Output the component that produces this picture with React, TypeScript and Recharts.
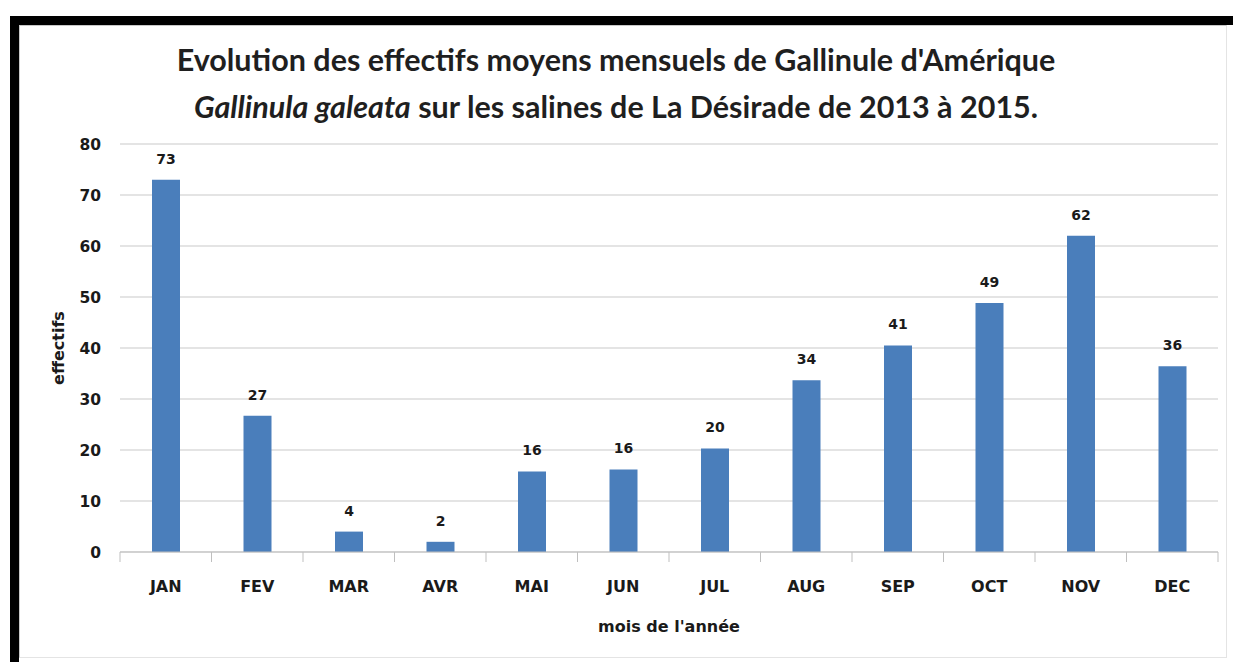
import React from 'react'
import {
  BarChart,
  Bar,
  XAxis,
  YAxis,
  CartesianGrid,
  LabelList,
  Label,
} from 'recharts'

const months = ['JAN', 'FEV', 'MAR', 'AVR', 'MAI', 'JUN', 'JUL', 'AUG', 'SEP', 'OCT', 'NOV', 'DEC']
const effectifs = [73, 26.7, 4, 2, 15.8, 16.2, 20.3, 33.7, 40.5, 48.8, 62, 36.4]
const yTicks = [0, 10, 20, 30, 40, 50, 60, 70, 80]

const data = months.map((m, i) => ({ mois: m, effectif: effectifs[i] }))

const W = 1233
const H = 662
const PLOT_LEFT = 120
const PLOT_RIGHT = 1218
const BAND = (PLOT_RIGHT - PLOT_LEFT) / months.length

const tickFont = '"DejaVu Sans", Verdana, sans-serif'

// category tick: label centred, tick marks on the category boundaries
const MonthTick = (props: any) => {
  const { x, y, payload, index } = props
  const axisY = y - 22
  return (
    <g>
      <line x1={x - BAND / 2} y1={axisY} x2={x - BAND / 2} y2={axisY + 10} stroke="#bfbfbf" />
      {index === months.length - 1 && (
        <line x1={x + BAND / 2} y1={axisY} x2={x + BAND / 2} y2={axisY + 10} stroke="#bfbfbf" />
      )}
      <text
        x={x}
        y={axisY + 40}
        textAnchor="middle"
        fontFamily={tickFont}
        fontWeight="bold"
        fontSize={16}
        fill="#1a1a1a"
      >
        {payload.value}
      </text>
    </g>
  )
}

const App = () => {
  return (
    <div style={{ position: 'absolute', left: 0, top: 0, width: W, height: H, background: '#fff' }}>
      {/* frame */}
      <div
        style={{
          position: 'absolute',
          left: 10,
          top: 16,
          width: W - 10,
          height: H - 16,
          borderTop: '9px solid #000',
          borderLeft: '9px solid #000',
          boxSizing: 'border-box',
        }}
      >
        <div
          style={{
            position: 'absolute',
            left: 0,
            top: 0,
            right: 6,
            bottom: 4,
            borderLeft: '1px solid #c8c8c8',
            borderTop: '1px solid #c8c8c8',
            borderRight: '1px solid #e4e4e4',
            borderBottom: '1px solid #e4e4e4',
          }}
        />
      </div>

      {/* title */}
      <div
        style={{
          position: 'absolute',
          left: 0,
          top: 40,
          width: 1232,
          textAlign: 'center',
          fontFamily: 'Lato, sans-serif',
          fontWeight: 'bold',
          fontSize: 30.5,
          color: '#1f1f1f',
          whiteSpace: 'nowrap',
        }}
      >
        <div style={{ height: 38, lineHeight: '38px' }}>
          Evolution des effectifs moyens mensuels de Gallinule d'Amérique
        </div>
        <div style={{ height: 46, lineHeight: '56px' }}>
          <i>Gallinula galeata</i> sur les salines de La Désirade de 2013 à 2015.
        </div>
      </div>

      <div style={{ position: 'absolute', left: 0, top: 0 }}>
        <BarChart
          width={W}
          height={H}
          data={data}
          margin={{ top: 144, right: W - PLOT_RIGHT, bottom: 20, left: 0 }}
          barCategoryGap={0}
        >
          <CartesianGrid vertical={false} stroke="#c9c9c9" />
          <XAxis
            dataKey="mois"
            height={90}
            axisLine={{ stroke: '#bfbfbf' }}
            tickLine={false}
            tickSize={10}
            tickMargin={12}
            interval={0}
            tick={<MonthTick />}
          >
            <Label
              value="mois de l'année"
              position="insideBottom"
              offset={10}
              style={{ fontFamily: tickFont, fontWeight: 'bold', fontSize: 16, fill: '#1a1a1a' }}
            />
          </XAxis>
          <YAxis
            width={PLOT_LEFT}
            domain={[0, 80]}
            ticks={yTicks}
            interval={0}
            axisLine={false}
            tickLine={false}
            tickSize={6}
            tickMargin={13}
            tick={{ fontFamily: tickFont, fontWeight: 'bold', fontSize: 15.5, fill: '#1a1a1a' }}
          >
            <Label
              content={(p: any) => {
                const vb = p.viewBox
                const cx = 58
                const cy = vb.y + vb.height / 2
                return (
                  <text
                    x={cx}
                    y={cy}
                    transform={`rotate(-90 ${cx} ${cy})`}
                    textAnchor="middle"
                    dominantBaseline="central"
                    fontFamily={tickFont}
                    fontWeight="bold"
                    fontSize={16}
                    fill="#1a1a1a"
                  >
                    effectifs
                  </text>
                )
              }}
            />
          </YAxis>
          <Bar dataKey="effectif" fill="#4a7ebb" barSize={28} isAnimationActive={false}>
            <LabelList
              dataKey="effectif"
              position="top"
              offset={16}
              formatter={(v: any) => Math.round(Number(v))}
              style={{ fontFamily: tickFont, fontWeight: 'bold', fontSize: 14, fill: '#1a1a1a' }}
            />
          </Bar>
        </BarChart>
      </div>
    </div>
  )
}

export default App
